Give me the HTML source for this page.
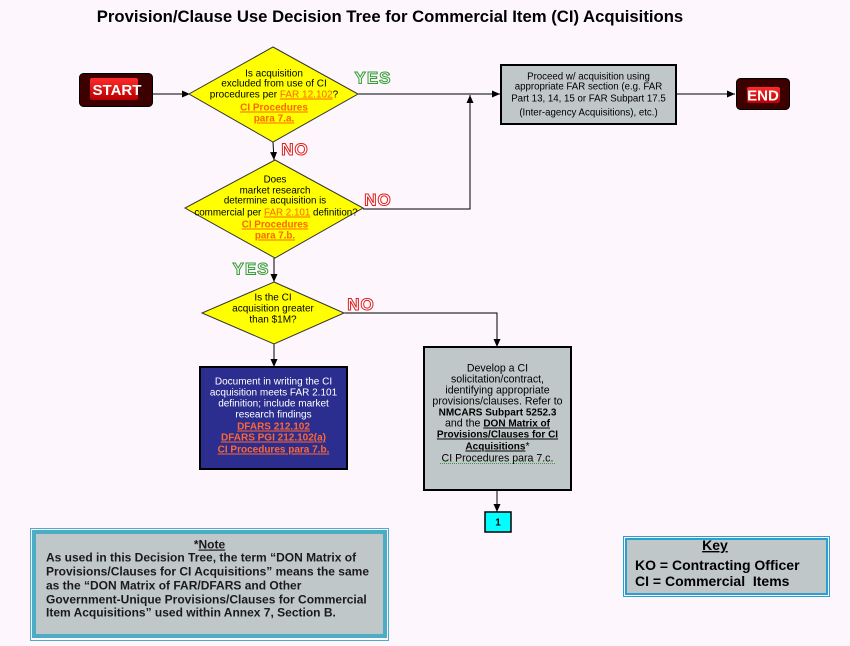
<!DOCTYPE html>
<html><head><meta charset="utf-8">
<style>
html,body{margin:0;padding:0;background:#fdf6fd;}
svg{display:block;font-family:"Liberation Sans",Arial,sans-serif;}
.u{text-decoration:underline;}
</style></head><body>
<svg width="850" height="646" viewBox="0 0 850 646" xmlns="http://www.w3.org/2000/svg">
<defs>
<marker id="ah" markerWidth="8" markerHeight="8" refX="8" refY="3.5" orient="auto" markerUnits="userSpaceOnUse">
<path d="M0,0 L8,3.5 L0,7 z" fill="#000"/>
</marker>
<linearGradient id="rg" x1="0" y1="0" x2="0" y2="1"><stop offset="0" stop-color="#ff2a2a"/><stop offset="1" stop-color="#b80000"/></linearGradient>
</defs>
<rect width="850" height="646" fill="#fdf6fd"/>

<!-- Title -->
<text x="390" y="22" text-anchor="middle" font-size="16.7" font-weight="bold" fill="#000">Provision/Clause Use Decision Tree for Commercial Item (CI) Acquisitions</text>

<!-- Connectors -->
<g stroke="#000" stroke-width="1" fill="none">
<line x1="153" y1="94" x2="190" y2="94" marker-end="url(#ah)"/>
<line x1="358" y1="94" x2="500" y2="94" marker-end="url(#ah)"/>
<line x1="676" y1="94" x2="735" y2="94" marker-end="url(#ah)"/>
<polyline points="363,209 470,209 470,95" marker-end="url(#ah)"/>
<line x1="273" y1="142" x2="274" y2="160" marker-end="url(#ah)"/>
<line x1="274" y1="258" x2="274" y2="282" marker-end="url(#ah)"/>
<line x1="274" y1="344" x2="274" y2="367" marker-end="url(#ah)"/>
<polyline points="344,313 497,313 497,347" marker-end="url(#ah)"/>
<line x1="497" y1="490" x2="497" y2="512" marker-end="url(#ah)"/>
</g>

<!-- START -->
<rect x="79.5" y="73.5" width="73" height="33" rx="4" fill="#3d0000" stroke="#000" stroke-width="1"/>
<rect x="90" y="78" width="48" height="22" rx="2" fill="url(#rg)"/>
<text x="117" y="95" text-anchor="middle" fill="#fff" font-size="15" font-weight="bold">START</text>

<!-- END -->
<rect x="736.5" y="78.5" width="53" height="31" rx="4" fill="#3d0000" stroke="#000" stroke-width="1"/>
<rect x="747" y="87" width="33" height="16" rx="2" fill="url(#rg)"/>
<text x="763" y="100.5" text-anchor="middle" fill="#fff" font-size="15" font-weight="bold">END</text>

<!-- Diamond 1 -->
<polygon points="273,47 358,94 273,142 189,94" fill="#ffff00" stroke="#333" stroke-width="1"/>
<g font-size="10" text-anchor="middle" fill="#000">
<text x="274" y="76.5">Is acquisition</text>
<text x="274" y="86.5">excluded from use of CI</text>
<text x="274" y="97.5">procedures per <tspan fill="#ff6600" class="u">FAR 12.102</tspan>?</text>
<text x="274" y="110.5" fill="#ff6600" font-weight="bold" class="u">CI Procedures</text>
<text x="274" y="121.5" fill="#ff6600" font-weight="bold" class="u">para 7.a.</text>
</g>

<!-- Diamond 2 -->
<polygon points="275,160 363,208 275,258 185,208" fill="#ffff00" stroke="#333" stroke-width="1"/>
<g font-size="9.8" text-anchor="middle" fill="#000">
<text x="275" y="182.5">Does</text>
<text x="275" y="193.5">market research</text>
<text x="275" y="203.5">determine acquisition is</text>
<text x="276" y="215.5">commercial per <tspan fill="#ff6600" class="u">FAR 2.101</tspan> definition?</text>
<text x="275" y="227.5" fill="#ff6600" font-weight="bold" class="u">CI Procedures</text>
<text x="275" y="238.5" fill="#ff6600" font-weight="bold" class="u">para 7.b.</text>
</g>

<!-- Diamond 3 -->
<polygon points="274,282 344,313 274,344 202,313" fill="#ffff00" stroke="#333" stroke-width="1"/>
<g font-size="10" text-anchor="middle" fill="#000">
<text x="273" y="300.5">Is the CI</text>
<text x="273" y="311.5">acquisition greater</text>
<text x="273" y="322.5">than $1M?</text>
</g>

<!-- YES / NO labels -->
<g font-size="17" font-weight="bold" text-anchor="middle" stroke-width="1" letter-spacing="1">
<text x="373" y="83.5" fill="#f0fff0" stroke="#3a9a3a">YES</text>
<text x="295" y="155" fill="#fff" stroke="#e02020">NO</text>
<text x="378" y="205.5" fill="#fff" stroke="#e02020">NO</text>
<text x="251" y="274.5" fill="#f0fff0" stroke="#3a9a3a">YES</text>
<text x="361" y="310" fill="#fff" stroke="#e02020">NO</text>
</g>

<!-- Proceed box -->
<rect x="501" y="65" width="175" height="59" fill="#c0c7c8" stroke="#000" stroke-width="2"/>
<g font-size="9.7" text-anchor="middle" fill="#000">
<text x="588.5" y="79.5">Proceed w/ acquisition using</text>
<text x="588.5" y="89.5">appropriate FAR section (e.g. FAR</text>
<text x="588.5" y="101.5">Part 13, 14, 15 or FAR Subpart 17.5</text>
<text x="588.5" y="115.5">(Inter-agency Acquisitions), etc.)</text>
</g>

<!-- Blue box -->
<rect x="200" y="367" width="147" height="102" fill="#2b2e8f" stroke="#000" stroke-width="2"/>
<g font-size="10" text-anchor="middle" fill="#fff">
<text x="273.5" y="384.5">Document in writing the CI</text>
<text x="273.5" y="395.5">acquisition meets FAR 2.101</text>
<text x="273.5" y="406.5">definition; include market</text>
<text x="273.5" y="417.5">research findings</text>
<text x="273.5" y="429.5" fill="#ff6633" font-weight="bold" class="u">DFARS 212.102</text>
<text x="273.5" y="440.5" fill="#ff6633" font-weight="bold" class="u">DFARS PGI 212.102(a)</text>
<text x="273.5" y="452.5" fill="#ff6633" font-weight="bold" class="u">CI Procedures para 7.b.</text>
</g>

<!-- Grey box -->
<rect x="424" y="347" width="147" height="143" fill="#c0c7c8" stroke="#000" stroke-width="2"/>
<g font-size="10.6" text-anchor="middle" fill="#000">
<text x="497.5" y="371.5">Develop a CI</text>
<text x="497.5" y="382.5">solicitation/contract,</text>
<text x="497.5" y="393.5">identifying appropriate</text>
<text x="497.5" y="404.5">provisions/clauses. Refer to</text>
<text x="497.5" y="415.5" font-weight="bold" font-size="10">NMCARS Subpart 5252.3</text>
<text x="497.5" y="426.5">and the <tspan font-weight="bold" font-size="10" class="u">DON Matrix of</tspan></text>
<text x="497.5" y="437.5" font-weight="bold" font-size="10" class="u">Provisions/Clauses for CI</text>
<text x="497.5" y="449.5"><tspan font-weight="bold" font-size="10" class="u">Acquisitions</tspan>*</text>
<text x="497.5" y="461.5">CI Procedures para 7.c.</text>
</g>
<line x1="440" y1="463.5" x2="555" y2="463.5" stroke="#3a9a3a" stroke-width="1" stroke-dasharray="1,1"/>

<!-- Connector box 1 -->
<rect x="485" y="512" width="26" height="20" fill="#00ffff" stroke="#000" stroke-width="1.5"/>
<text x="498" y="525.5" text-anchor="middle" font-size="10" font-weight="bold" fill="#000">1</text>

<!-- Note box -->
<rect x="30.5" y="528.5" width="358" height="112" fill="none" stroke="#4bacc6" stroke-width="1"/>
<rect x="34" y="532" width="351" height="104" fill="#c0c7c8" stroke="#4bacc6" stroke-width="4"/>
<g font-size="12" font-weight="bold" fill="#1a1a1a">
<text x="209.5" y="548.5" text-anchor="middle">*<tspan class="u">Note</tspan></text>
<text x="46" y="561.5">As used in this Decision Tree, the term “DON Matrix of</text>
<text x="46" y="575.5">Provisions/Clauses for CI Acquisitions” means the same</text>
<text x="46" y="589.5">as the “DON Matrix of FAR/DFARS and Other</text>
<text x="46" y="603.5">Government-Unique Provisions/Clauses for Commercial</text>
<text x="46" y="616.5">Item Acquisitions” used within Annex 7, Section B.</text>
</g>

<!-- Key box -->
<rect x="623.5" y="536.5" width="206" height="60" fill="none" stroke="#2aa0d0" stroke-width="1"/>
<rect x="626" y="539" width="201" height="55" fill="#c0c7c8" stroke="#2aa0d0" stroke-width="2"/>
<g font-size="14" font-weight="bold" fill="#000">
<text x="715" y="550" text-anchor="middle" class="u">Key</text>
<text x="635" y="570">KO = Contracting Officer</text>
<text x="635" y="586">CI = Commercial&#160; Items</text>
</g>
</svg>
</body></html>
